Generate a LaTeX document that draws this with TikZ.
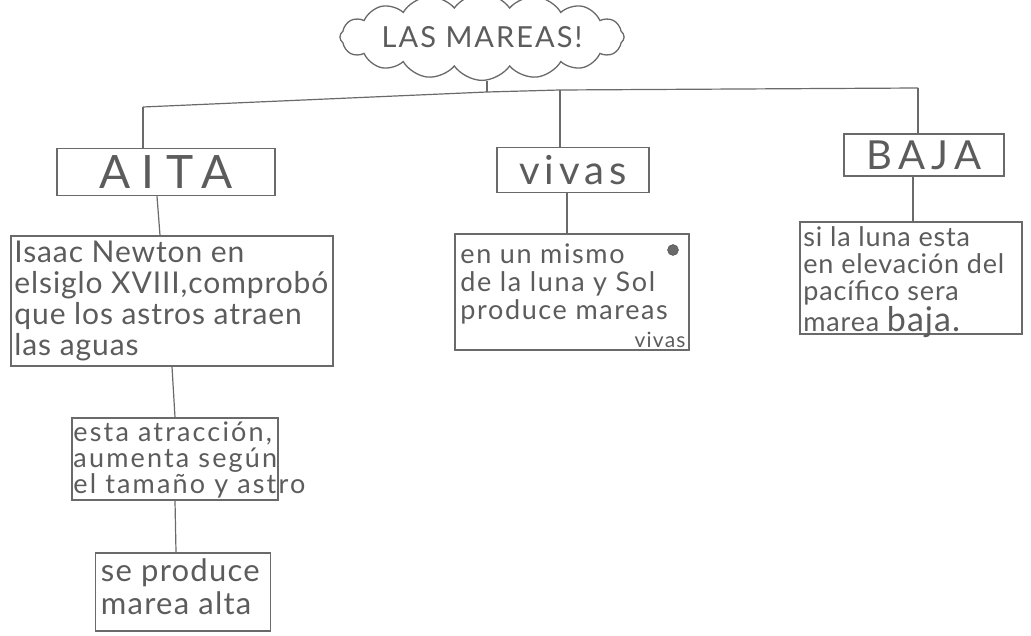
\documentclass[tikz,border=0pt]{standalone}
\usepackage{fontspec}
\setmainfont{Lato}
\usetikzlibrary{shapes.symbols}
\definecolor{pencil}{HTML}{6A6A6A}
\definecolor{ink}{HTML}{5C5C5C}
\tikzset{
  pline/.style={draw=pencil, line width=1.2pt},
  pbox/.style={draw=pencil, line width=1.5pt, rectangle, inner sep=0pt},
  ptext/.style={text=ink, inner sep=0pt, align=left},
}
\begin{document}
\begin{tikzpicture}[x=1pt,y=-1pt]
\useasboundingbox (0,0) rectangle (1031,636);
\fill[white] (0,0) rectangle (1031,636);
% title cloud
\node[cloud, cloud puffs=16, cloud puff arc=110, aspect=4.8, draw=pencil, line width=1.3pt, text=ink, inner xsep=0pt, inner ysep=0pt, font=\fontsize{29}{30}\selectfont\addfontfeatures{LetterSpace=7}] (title) at (482,37) {LAS MAREAS!};
% boxes
\node[pbox, minimum width=218pt, minimum height=47pt] (aita) at (166,172) {};
\node[ptext, font=\fontsize{46}{48}\selectfont\addfontfeatures{LetterSpace=25}] at (aita) {AITA};
\node[pbox, minimum width=152pt, minimum height=45pt] (vivas) at (573,170) {};
\node[ptext, font=\fontsize{40}{42}\selectfont\addfontfeatures{LetterSpace=12}] at (vivas) {vivas};
\node[pbox, minimum width=160pt, minimum height=42pt] (baja) at (924,155) {};
\node[ptext, font=\fontsize{40}{42}\selectfont\addfontfeatures{LetterSpace=15}] at (baja) {BAJA};
% level 2
\node[pbox, minimum width=322pt, minimum height=130pt] (isaac) at (172,301) {};
\node[ptext, anchor=north west, font=\fontsize{30}{31}\selectfont\addfontfeatures{LetterSpace=3}] at ([xshift=4pt,yshift=-6pt]isaac.north west) {Isaac Newton en\\elsiglo XVIII,comprobó\\que los astros atraen\\las aguas};
\node[pbox, minimum width=234pt, minimum height=116pt] (mismo) at (572,292) {};
\node[ptext, anchor=north west, font=\fontsize{27}{28}\selectfont\addfontfeatures{LetterSpace=6}] (mismotxt) at ([xshift=6pt,yshift=-10pt]mismo.north west) {en un mismo\\de la luna y Sol\\produce mareas};
\node[ptext, anchor=south east, font=\fontsize{21}{22}\selectfont\addfontfeatures{LetterSpace=6}] at ([xshift=-4pt,yshift=3pt]mismo.south east) {vivas};
\node[circle, fill=pencil, draw=pencil!70!black, minimum size=11pt, inner sep=0pt] (dot) at (673,250) {};
\node[pbox, minimum width=222pt, minimum height=112pt] (luna) at (911,278) {};
\node[ptext, anchor=north west, font=\fontsize{27}{27}\selectfont\addfontfeatures{LetterSpace=3}] at ([xshift=4pt,yshift=-5pt]luna.north west) {si la luna esta\\en elevación del\\pacífico sera\\marea \fontsize{34}{27}\selectfont baja.};
% level 3
\node[pbox, minimum width=206pt, minimum height=82pt] (esta) at (175,459) {};
\node[ptext, anchor=north west, font=\fontsize{27}{26}\selectfont\addfontfeatures{LetterSpace=8}] at ([xshift=2pt,yshift=-4pt]esta.north west) {esta atracción,\\aumenta según\\el tamaño y astro};
\node[pbox, minimum width=175pt, minimum height=78pt] (sepro) at (183,592) {};
\node[ptext, anchor=north west, font=\fontsize{31}{33}\selectfont\addfontfeatures{LetterSpace=4}] at ([xshift=6pt,yshift=-6pt]sepro.north west) {se produce\\marea alta};
% connectors
\coordinate (J) at (487,92);
\coordinate (L) at (143,107);
\coordinate (R) at (918,88);
\coordinate (M) at (560,90);
\draw[pline] (title.south -| J) -- (J);
\draw[pline] (L) -- (J) -- (M) -- (R);
\draw[pline] (L) -- (L |- aita.north);
\draw[pline] (M) -- (M |- vivas.north);
\draw[pline] (R) -- (R |- baja.north);
\draw[pline] ([xshift=-9pt]aita.south) -- ([xshift=-12pt]isaac.north);
\draw[pline] ([xshift=-6pt]vivas.south) -- ([xshift=-5pt]mismo.north);
\draw[pline] ([xshift=-11pt]baja.south) -- ([xshift=2pt]luna.north);
\draw[pline] (isaac.south) -- (esta.north);
\draw[pline] (esta.south) -- ([xshift=-7pt]sepro.north);
\end{tikzpicture}
\end{document}
